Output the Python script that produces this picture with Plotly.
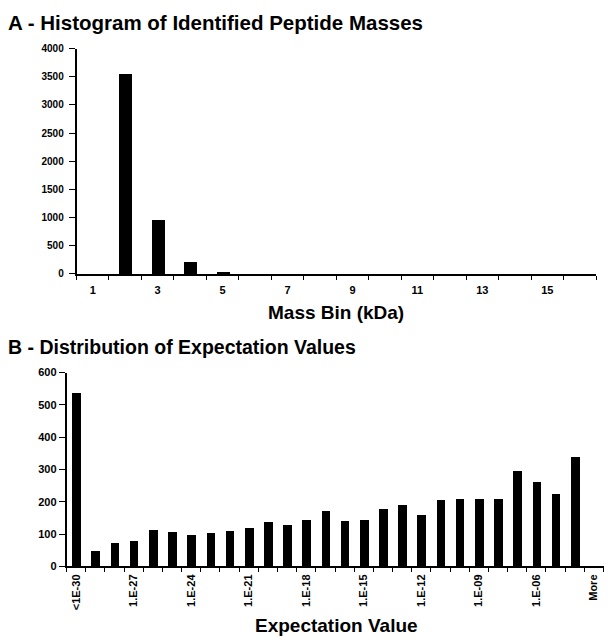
import plotly.graph_objects as go

# Panel A - peptide mass histogram
mass_bins = list(range(1, 17))
mass_counts = [0, 3560, 960, 222, 35, 0, 0, 0, 0, 0, 0, 0, 0, 0, 0, 0]
mass_ticktext = [str(b) if b % 2 == 1 else "" for b in mass_bins]

# Panel B - expectation values
exp_labels = ["<1E-30"] + [f"1.E-{n:02d}" for n in range(29, 3, -1)] + ["More"]
exp_counts = [537, 50, 75, 81, 114, 107, 98, 105, 110, 121, 139, 128, 145, 172,
              143, 145, 178, 192, 159, 206, 210, 211, 210, 297, 264, 226, 340, 0]
exp_ticktext = [lab if i % 3 == 0 else "" for i, lab in enumerate(exp_labels)]

FONT = "Liberation Sans, Arial, sans-serif"
W, H = 612, 643


def bold(size):
    return dict(family=FONT, size=size, color="black", weight="bold")


fig = go.Figure()

fig.add_trace(go.Bar(
    x=mass_bins, y=mass_counts, width=0.4,
    marker=dict(color="black", line=dict(width=0)),
    xaxis="x", yaxis="y", showlegend=False,
))
fig.add_trace(go.Bar(
    x=exp_labels, y=exp_counts, width=0.45,
    marker=dict(color="black", line=dict(width=0)),
    xaxis="x2", yaxis="y2", showlegend=False,
))

axis_common = dict(
    showgrid=False, zeroline=False, showline=True,
    linecolor="black", linewidth=1.5,
    ticks="outside", tickwidth=1.3, tickcolor="black",
)

fig.update_layout(
    width=W, height=H,
    paper_bgcolor="white", plot_bgcolor="white",
    margin=dict(l=0, r=0, t=0, b=0),
    bargap=0,
    xaxis=dict(
        axis_common, type="category", domain=[76.5 / W, 596 / W],
        tickmode="array", tickvals=mass_bins, ticktext=mass_ticktext,
        tickson="boundaries", anchor="y", ticklen=4, ticklabelstandoff=5,
        tickfont=bold(11),
    ),
    yaxis=dict(
        axis_common, domain=[1 - 273 / H, 1 - 43.5 / H],
        range=[0, 4000], dtick=500, anchor="x", ticklen=6,
        tickfont=bold(10), ticklabelstandoff=3,
    ),
    xaxis2=dict(
        axis_common, type="category", domain=[66.5 / W, 603.5 / W],
        tickmode="array", tickvals=exp_labels, ticktext=exp_ticktext,
        tickson="boundaries", tickangle=-90, anchor="y2", ticklen=4,
        tickfont=bold(11), ticklabelstandoff=2,
    ),
    yaxis2=dict(
        axis_common, domain=[1 - 571 / H, 1 - 373.5 / H],
        range=[0, 600], dtick=100, anchor="x2", ticklen=6,
        tickfont=bold(11),
    ),
)

fig.add_annotation(text="A - Histogram of Identified Peptide Masses",
                   xref="paper", yref="paper", x=6 / W, y=1 - 17 / H,
                   xanchor="left", yanchor="middle", showarrow=False, font=bold(20.5))
fig.add_annotation(text="B - Distribution of Expectation Values",
                   xref="paper", yref="paper", x=6 / W, y=1 - 347 / H,
                   xanchor="left", yanchor="middle", showarrow=False, font=bold(19.5))
fig.add_annotation(text="Mass Bin (kDa)",
                   xref="paper", yref="paper", x=336 / W, y=1 - 312 / H,
                   xanchor="center", yanchor="middle", showarrow=False, font=bold(19))
fig.add_annotation(text="Expectation Value",
                   xref="paper", yref="paper", x=336 / W, y=1 - 631 / H,
                   xanchor="center", yanchor="middle", showarrow=False, font=bold(19))

fig.write_html("out.html", config={"displayModeBar": False},
               post_script="document.body.style.margin='0';")
